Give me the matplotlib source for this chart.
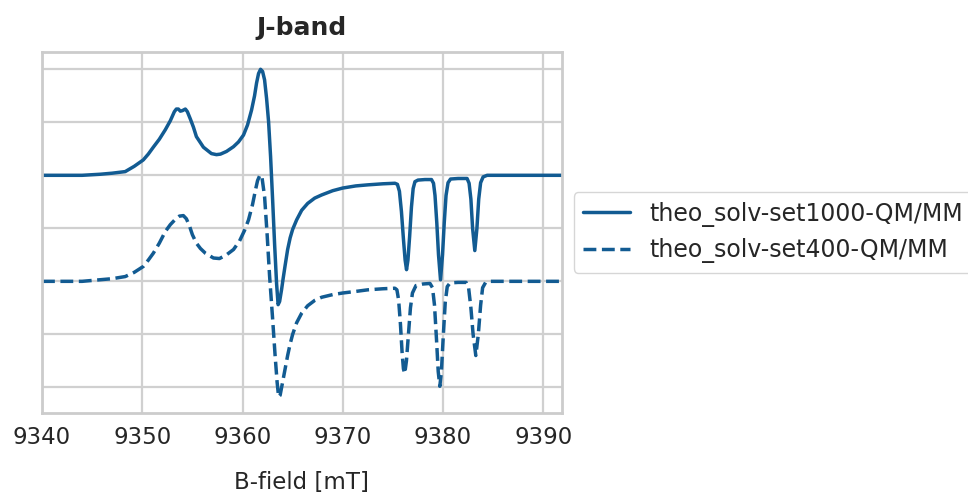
import matplotlib
matplotlib.use("Agg")
import matplotlib.pyplot as plt
import seaborn as sns

# spectra (B-field in mT, intensity in arbitrary units)
b_set1000 = [9340.0, 9344.0, 9345.8, 9347.0, 9348.3, 9349.2, 9350.1, 9350.6, 9351.1, 9351.7,
             9352.3, 9352.8, 9353.2, 9353.4, 9353.6, 9353.8, 9354.0, 9354.3, 9354.5, 9354.8,
             9355.1, 9355.4, 9356.1, 9356.9, 9357.4, 9357.8, 9358.4, 9359.1, 9359.6, 9360.1,
             9360.5, 9360.9, 9361.2, 9361.4, 9361.6, 9361.8, 9362.0, 9362.2, 9362.4, 9362.6,
             9362.8, 9363.0, 9363.2, 9363.4, 9363.55, 9363.7, 9363.9, 9364.05, 9364.25, 9364.5,
             9364.75, 9365.0, 9365.4, 9365.9, 9366.5, 9367.2, 9367.9, 9369.0, 9370.0, 9371.3,
             9372.5, 9374.0, 9375.2,
             9375.45, 9375.65, 9375.85, 9376.05, 9376.22, 9376.36, 9376.5, 9376.67, 9376.85,
             9377.02, 9377.2, 9377.5, 9378.2, 9378.85,
             9379.05, 9379.2, 9379.38, 9379.55, 9379.75, 9379.95, 9380.12, 9380.3, 9380.5,
             9380.75, 9381.5, 9382.4,
             9382.6, 9382.78, 9382.95, 9383.17, 9383.38, 9383.56, 9383.75, 9384.0, 9384.4,
             9395.0]
i_set1000 = [0.0, 0.0, 0.02, 0.04, 0.07, 0.17, 0.29, 0.40, 0.53, 0.68,
             0.86, 1.03, 1.20, 1.25, 1.25, 1.21, 1.22, 1.25, 1.20, 1.06,
             0.91, 0.73, 0.53, 0.41, 0.39, 0.40, 0.45, 0.54, 0.63, 0.76,
             0.95, 1.23, 1.50, 1.74, 1.92, 2.00, 1.96, 1.80, 1.45, 1.01,
             0.35, -0.45, -1.30, -2.05, -2.44, -2.38, -2.15, -1.95, -1.70, -1.40,
             -1.18, -1.02, -0.84, -0.66, -0.53, -0.43, -0.37, -0.29, -0.24, -0.20,
             -0.18, -0.16, -0.15,
             -0.17, -0.30, -0.68, -1.20, -1.60, -1.78, -1.60, -1.15, -0.60,
             -0.25, -0.12, -0.09, -0.08, -0.08,
             -0.15, -0.38, -0.90, -1.50, -1.97, -1.50, -0.90, -0.38, -0.14,
             -0.07, -0.06, -0.06,
             -0.15, -0.45, -1.00, -1.42, -1.00, -0.45, -0.14, -0.03, 0.0,
             0.0]

b_set400 = [9340.0, 9344.0, 9345.8, 9347.0, 9348.3, 9349.2, 9350.1, 9350.6, 9351.1, 9351.7,
            9352.3, 9352.8, 9353.3, 9353.7, 9354.1, 9354.4, 9354.7, 9355.0, 9355.4, 9355.8,
            9356.3, 9357.1, 9357.7, 9358.4, 9359.1, 9359.7, 9360.2, 9360.6, 9361.0, 9361.3,
            9361.5, 9361.75, 9361.95, 9362.2, 9362.45, 9362.7, 9363.0, 9363.25, 9363.45, 9363.6,
            9363.75, 9363.95, 9364.2, 9364.5, 9364.75, 9365.0, 9365.4, 9365.9, 9366.5, 9367.2,
            9367.9, 9369.0, 9370.0, 9371.3, 9372.5, 9374.0, 9375.2,
            9375.4, 9375.57, 9375.75, 9375.92, 9376.05, 9376.18, 9376.35, 9376.55, 9376.75,
            9376.95, 9377.3, 9378.0, 9378.7,
            9378.95, 9379.15, 9379.35, 9379.52, 9379.68, 9379.84, 9380.02, 9380.22, 9380.42,
            9380.7, 9381.5, 9382.3,
            9382.55, 9382.78, 9383.0, 9383.27, 9383.52, 9383.75, 9383.95, 9384.25, 9384.7,
            9395.0]
i_set400 = [-2.0, -2.0, -1.97, -1.95, -1.91, -1.83, -1.72, -1.60, -1.47, -1.28,
            -1.06, -0.93, -0.83, -0.77, -0.76, -0.82, -0.95, -1.12, -1.28, -1.38,
            -1.47, -1.56, -1.57, -1.50, -1.40, -1.24, -1.04, -0.84, -0.55, -0.27,
            -0.10, 0.01, -0.05, -0.40, -1.10, -1.90, -2.70, -3.40, -3.90, -4.18,
            -4.15, -3.95, -3.70, -3.40, -3.18, -3.00, -2.78, -2.60, -2.46, -2.36,
            -2.30, -2.25, -2.22, -2.19, -2.16, -2.14, -2.13,
            -2.16, -2.35, -2.80, -3.35, -3.65, -3.74, -3.50, -3.00, -2.50,
            -2.22, -2.08, -2.05, -2.04,
            -2.12, -2.45, -3.10, -3.70, -3.98, -3.70, -3.05, -2.40, -2.10,
            -2.03, -2.02, -2.02,
            -2.12, -2.50, -3.00, -3.40, -3.00, -2.45, -2.12, -2.02, -2.0,
            -2.0]

x_ticks = [9340, 9350, 9360, 9370, 9380, 9390]
y_ticks = [-4, -3, -2, -1, 0, 1, 2]

sns.set_style("whitegrid")
plt.rcParams['font.family'] = ['DejaVu Sans']

color = '#125b92'
fig = plt.figure(figsize=(9.68, 4.98), dpi=100)
ax = fig.add_axes([0.0434, 0.170, 0.537, 0.726])

ax.plot(b_set1000, i_set1000, color=color, lw=2.5, ls='-', label='theo_solv-set1000-QM/MM')
ax.plot(b_set400, i_set400, color=color, lw=2.5, ls='--', label='theo_solv-set400-QM/MM')

ax.set_xlim(9340, 9391.85)
ax.set_ylim(-4.49, 2.33)
ax.set_xticks(x_ticks)
ax.set_yticks(y_ticks)
ax.set_yticklabels([])
ax.tick_params(axis='x', labelsize=16.5, pad=9, colors='#262626')
ax.tick_params(length=0)
ax.grid(True, color='#d0d0d0', lw=1.6)
for s in ax.spines.values():
    s.set_color('#cccccc')
    s.set_linewidth(2)

ax.set_xlabel('B-field [mT]', fontsize=16.5, color='#262626', labelpad=16)
ax.set_title('J-band', fontsize=18, fontweight='bold', color='#262626', pad=12)

ax.legend(loc='center left', bbox_to_anchor=(1.0, 0.5), fontsize=17, frameon=True)

fig.savefig('out.png', dpi=100)
